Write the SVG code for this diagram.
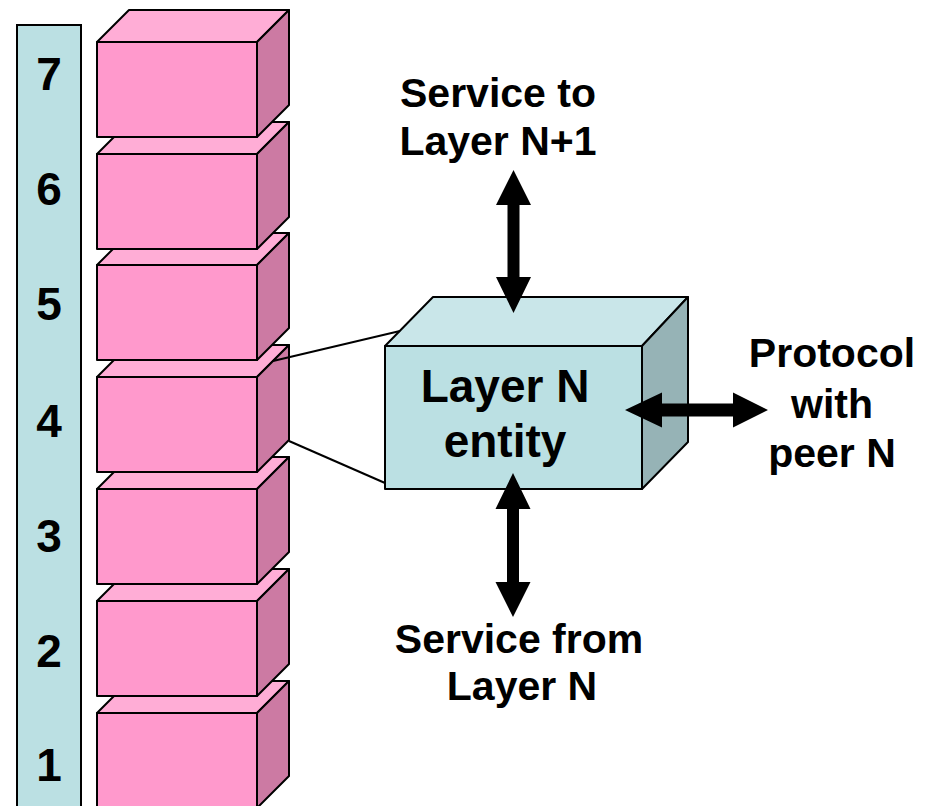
<svg xmlns="http://www.w3.org/2000/svg" width="935" height="806" viewBox="0 0 935 806">
<defs>
<style>
.front{fill:#FF99CC;stroke:#000;stroke-width:2;stroke-linejoin:round}
.top{fill:#FFADD6;stroke:#000;stroke-width:2;stroke-linejoin:round}
.side{fill:#CC7AA3;stroke:#000;stroke-width:2;stroke-linejoin:round}
.efront{fill:#BBE0E3;stroke:#000;stroke-width:2;stroke-linejoin:round}
.etop{fill:#C9E6E9;stroke:#000;stroke-width:2;stroke-linejoin:round}
.eside{fill:#96B3B6;stroke:#000;stroke-width:2;stroke-linejoin:round}
.num{font-family:"Liberation Sans",Arial,sans-serif;font-weight:bold;font-size:46px;fill:#000;text-anchor:middle}
.lbl{font-family:"Liberation Sans",Arial,sans-serif;font-weight:bold;font-size:41px;fill:#000;text-anchor:middle}
.ent{font-family:"Liberation Sans",Arial,sans-serif;font-weight:bold;font-size:46px;fill:#000;text-anchor:middle}
.conn{stroke:#000;stroke-width:2;fill:none}
.arrow{fill:#000;stroke:none}
</style>
<g id="box">
<rect class="front" x="97" y="0" width="160" height="95"/>
<polygon class="top" points="97,0 129,-32 289,-32 257,0"/>
<polygon class="side" points="257,0 289,-32 289,63 257,95"/>
</g>
</defs>
<g id="layer-column">
<rect x="17" y="25" width="64" height="800" fill="#BBE0E3" stroke="#000" stroke-width="2"/>
<text class="num" x="49" y="90">7</text>
<text class="num" x="49" y="205">6</text>
<text class="num" x="49" y="320">5</text>
<text class="num" x="49" y="437">4</text>
<text class="num" x="49" y="552">3</text>
<text class="num" x="49" y="667">2</text>
<text class="num" x="49" y="781">1</text>
</g>
<g id="layer1"><use href="#box" x="0" y="713"/></g>
<g id="layer2"><use href="#box" x="0" y="601"/></g>
<g id="layer3"><use href="#box" x="0" y="489"/></g>
<g id="layer4"><use href="#box" x="0" y="377"/></g>
<g id="layer5"><use href="#box" x="0" y="265"/></g>
<g id="layer6"><use href="#box" x="0" y="154"/></g>
<g id="layer7"><use href="#box" x="0" y="42"/></g>
<g id="entity">
<polygon class="etop" points="385,346 433,297 688,297 642,346"/>
<polygon class="eside" points="642,346 688,297 688,442 642,489"/>
<rect class="efront" x="385" y="346" width="257" height="143"/>
<text class="ent" x="505" y="402">Layer N</text>
<text class="ent" x="505" y="457">entity</text>
</g>
<g id="connectors">
<line class="conn" x1="273" y1="361" x2="400" y2="331"/>
<line class="conn" x1="289" y1="441" x2="385" y2="483"/>
<polygon class="arrow" points="513.5,170 531,205 519.5,205 519.5,277 531,277 513.5,313 496,277 507.5,277 507.5,205 496,205"/>
<polygon class="arrow" points="513,473 530.5,509 519,509 519,582 530.5,582 513,617 495.5,582 507,582 507,509 495.5,509"/>
<polygon class="arrow" points="625,410 662,392.5 662,403.5 733,403.5 733,392.5 768,410 733,427.5 733,416.5 662,416.5 662,427.5"/>
</g>
<g id="labels">
<text class="lbl" x="498" y="107">Service to</text>
<text class="lbl" x="498" y="155">Layer N+1</text>
<text class="lbl" x="832" y="367">Protocol</text>
<text class="lbl" x="832" y="418">with</text>
<text class="lbl" x="832" y="467">peer N</text>
<text class="lbl" x="519" y="653">Service from</text>
<text class="lbl" x="522" y="700">Layer N</text>
</g>
</svg>
